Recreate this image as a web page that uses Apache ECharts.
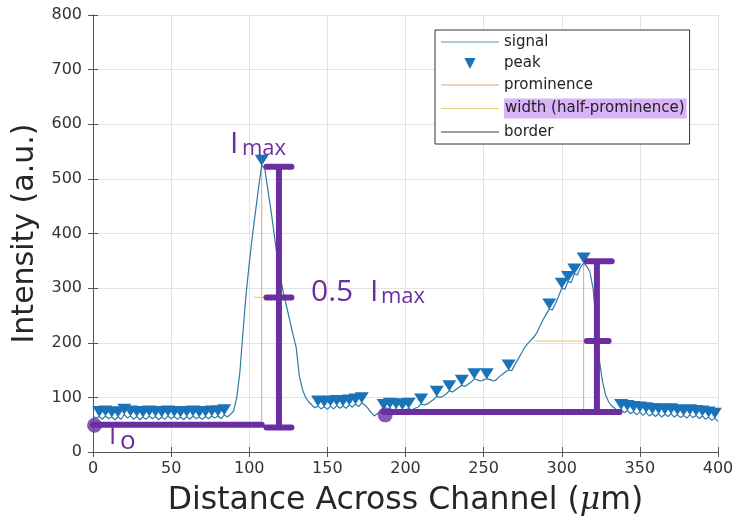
<!DOCTYPE html>
<html>
<head>
<meta charset="utf-8">
<script src="https://cdn.jsdelivr.net/npm/echarts@6/dist/echarts.min.js"></script>
<style>html,body{margin:0;padding:0;background:#fff}#c{width:738px;height:526px}</style>
</head>
<body>
<div id="c"></div>
<script>
// ---- data ----
const distance = [0,2,4,6,8,10,12,14,16,18,20,22,24,26,28,30,32,34,36,38,40,42,44,46,48,50,52,54,56,58,60,62,64,66,68,70,72,74,76,78,80,82,84,86,88,90,
92,94,96,98,100,102,104,106,108,110,112,114,116,118,120,122,124,126,128,130,132,134,136,138,
140,142,144,146,148,150,152,154,156,158,160,162,164,166,168,170,172,174,176,178,180,182,184,186,188,190,192,194,196,198,200,202,204,206,208,210,212,214,216,218,220,222,224,226,228,230,232,234,236,238,240,242,244,246,248,250,252,254,256,258,260,262,264,266,268,270,272,274,276,278,280,282,284,286,288,290,292,294,296,298,300,302,304,306,308,310,312,314,316,318,320,322,324,326,328,330,332,334,336,338,340,342,344,346,348,350,352,354,356,358,360,362,364,366,368,370,372,374,376,378,380,382,384,386,388,390,392,394,396,398,400];
const intensity = [66,62,65,60,66,61,64,59,64,60,69,62,66,60,65,59,64,60,66,61,65,59,64,60,66,61,65,60,64,59,65,60,66,61,64,60,65,61,66,62,66,61,68,64,69,75,
100,146,220,290,345,395,440,485,525,518,478,440,398,355,318,290,265,240,215,192,140,115,100,92,
86,81,84,79,83,78,84,79,85,80,84,80,86,82,88,83,90,86,80,72,66,70,74,78,75,80,76,79,74,78,76,80,77,80,82,88,86,88,92,96,102,100,102,106,112,110,114,118,122,120,124,128,134,132,130,132,134,133,130,132,138,142,147,150,149,160,170,180,190,198,204,210,218,230,242,252,262,260,272,285,300,298,312,310,326,324,338,346,340,330,300,240,170,130,105,92,84,80,74,78,72,76,70,74,68,73,67,72,66,70,65,70,64,69,65,70,64,68,63,67,62,68,63,67,61,66,60,64,58,62,56];
const peakX = [4,8,12,16,20,24,28,32,36,40,44,48,52,56,60,64,68,72,76,80,84,108,144,148,152,156,160,164,168,172,186,190,194,198,202,210,220,228,236,244,252,266,292,300,304,308,314,338,342,346,350,354,358,362,366,370,374,378,382,386,390,394,398];
// prominence (vertical) and half-prominence width (horizontal) lines
const prominence = [[[108,50],[108,525]], [[314,73],[314,346]]];
const halfWidth = [[[103,283],[117,283]], [[283,203],[321,203]]];
// hand-drawn border annotation segments
const borderSegs = [
  [[0,50],[108,50]],
  [[119,522],[119,45]], [[111,522],[127,522]], [[111,283],[127,283]], [[111,45],[127,45]],
  [[186,73],[337,73]],
  [[322.5,349],[322.5,73]], [[316,349],[332,349]], [[316,203],[330,203]]
];
const borderDots = [[1,49],[187,68]];

const signal = distance.map((d,i)=>[d,intensity[i]]);
const peaks = peakX.map(x=>[x, intensity[distance.indexOf(x)]]);
const seg = (list)=>{const out=[];list.forEach((s,k)=>{if(k)out.push(null);s.forEach(p=>out.push(p));});return out;};

const purple = '#6b2ea1';
const chart = echarts.init(document.getElementById('c'));
const tickFont = {fontFamily:'DejaVu Sans', fontSize:16, color:'#333'};
const lineIcon = 'path://M0,0H58V1H0Z';
chart.setOption({
  animation:false,
  grid:{left:93,right:20,top:15,bottom:74},
  xAxis:[{type:'value',min:0,max:400,interval:50,
    name:'Distance Across Channel ({mu|μ}m)',nameLocation:'middle',nameGap:33,
    nameTextStyle:{fontFamily:'DejaVu Sans',fontSize:31.5,color:'#262626',
      rich:{mu:{fontFamily:'DejaVu Serif',fontStyle:'italic',fontSize:31.5,color:'#262626'}}},
    axisLine:{show:true,lineStyle:{color:'#555',width:1}},
    axisTick:{show:true,inside:true,length:5,lineStyle:{color:'#555'}},
    axisLabel:Object.assign({margin:9},tickFont),
    splitLine:{show:true,lineStyle:{color:'#e3e3e3'}}},
   {type:'value',position:'top',min:0,max:400,interval:50,
    axisLine:{show:true,lineStyle:{color:'#555'}},axisTick:{show:true,inside:true,length:5,lineStyle:{color:'#555'}},
    axisLabel:{show:false},splitLine:{show:false}}],
  yAxis:[{type:'value',min:0,max:800,interval:100,
    name:'Intensity (a.u.)',nameLocation:'middle',nameGap:50,
    nameTextStyle:{fontFamily:'DejaVu Sans',fontSize:30,color:'#262626'},
    axisLine:{show:true,lineStyle:{color:'#555',width:1}},
    axisTick:{show:true,inside:true,length:5,lineStyle:{color:'#555'}},
    axisLabel:Object.assign({margin:11},tickFont),
    splitLine:{show:true,lineStyle:{color:'#e3e3e3'}}},
   {type:'value',position:'right',min:0,max:800,interval:100,
    axisLine:{show:true,lineStyle:{color:'#555'}},axisTick:{show:true,inside:true,length:5,lineStyle:{color:'#555'}},
    axisLabel:{show:false},splitLine:{show:false}}],
  legend:{orient:'vertical',left:435,top:30,padding:[4,3,4,6],itemWidth:58,itemHeight:14,itemGap:5.5,
    backgroundColor:'#fff',borderColor:'#333',borderWidth:1,borderRadius:0,
    textStyle:{fontFamily:'DejaVu Sans',fontSize:15,lineHeight:16,color:'#222'},
    data:[
      {name:'signal',icon:lineIcon,itemStyle:{color:'#5b9ab9'}},
      {name:'peak'},
      {name:'prominence',icon:lineIcon,itemStyle:{color:'#e3a07c'}},
      {name:'width (half-prominence)',icon:lineIcon,itemStyle:{color:'#ecd080'},
        textStyle:{backgroundColor:'#d9b2f7',padding:[2,2,2,1]}},
      {name:'border',icon:lineIcon,itemStyle:{color:'#4a3868'}}
    ]},
  graphic:[
    {type:'text',left:230,top:129,z:100,style:{text:'I',font:'30px "Open Sans"',fill:purple}},
    {type:'text',left:242,top:138,z:100,style:{text:'max',font:'22px "Open Sans"',fill:purple}},
    {type:'text',left:311,top:277,z:100,style:{text:'0.5',font:'30px "Open Sans"',fill:purple}},
    {type:'text',left:370,top:277,z:100,style:{text:'I',font:'30px "Open Sans"',fill:purple}},
    {type:'text',left:381,top:286,z:100,style:{text:'max',font:'22px "Open Sans"',fill:purple}},
    {type:'text',left:109,top:424,z:100,style:{text:'I',font:'26px "Open Sans"',fill:purple}},
    {type:'text',left:120,top:429,z:100,style:{text:'o',font:'26px "Open Sans"',fill:purple}}
  ],
  series:[
    {name:'signal',type:'line',data:signal,showSymbol:false,symbol:'none',
      lineStyle:{color:'#2f7aa3',width:1.2},itemStyle:{color:'#2f7aa3'},z:3},
    {name:'peak',type:'line',data:peaks,showSymbol:true,showAllSymbol:true,
      symbol:'path://M0,0L10,0L5,8.5Z',symbolSize:[14,11],symbolOffset:[0,-5],
      itemStyle:{color:'#1a72b8'},lineStyle:{width:0,opacity:0},z:4},
    {name:'prominence',type:'line',data:seg(prominence),showSymbol:false,symbol:'none',connectNulls:false,
      lineStyle:{color:'#eaa07a',width:1},itemStyle:{color:'#eaa07a'},z:2},
    {name:'width (half-prominence)',type:'line',data:seg(halfWidth),showSymbol:false,symbol:'none',connectNulls:false,
      lineStyle:{color:'#efd27a',width:1.2},itemStyle:{color:'#efd27a'},z:2},
    {name:'border',type:'line',data:seg(borderSegs),showSymbol:false,symbol:'none',connectNulls:false,
      lineStyle:{color:purple,width:6,cap:'round'},itemStyle:{color:purple},z:6},
    {name:'borderDots',type:'scatter',data:borderDots,symbol:'circle',symbolSize:15,
      itemStyle:{color:purple},z:6}
  ]
});
</script>
</body>
</html>
